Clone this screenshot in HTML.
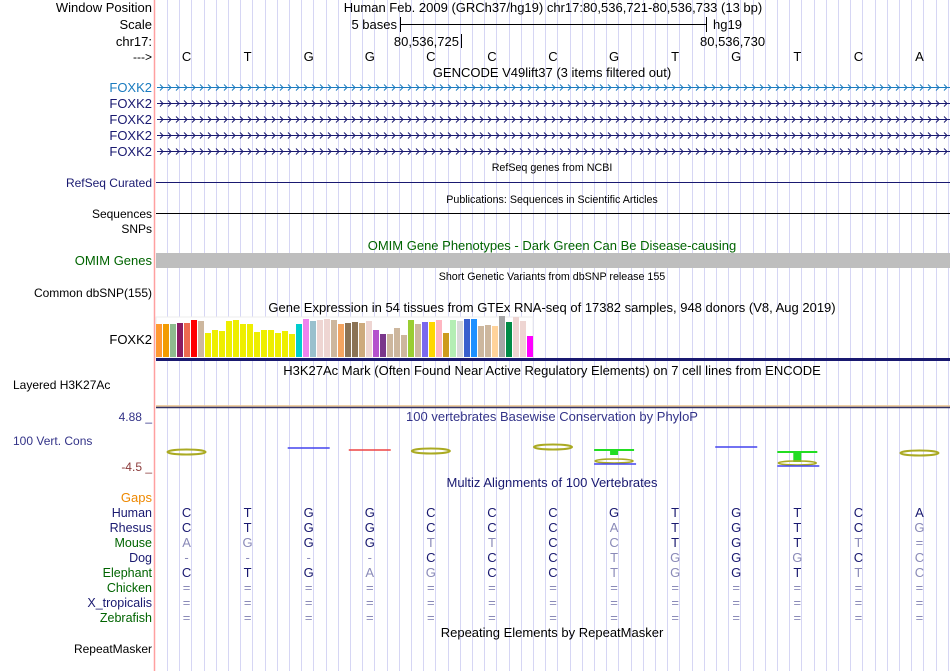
<!DOCTYPE html>
<html><head><meta charset="utf-8"><style>
html,body{margin:0;padding:0;background:#fff}
svg{display:block;font-family:"Liberation Sans",sans-serif}
</style></head><body>
<svg id="c" width="950" height="671" viewBox="0 0 950 671">
<g id="grid"></g>
<line x1="154.5" y1="0" x2="154.5" y2="671" stroke="#ffa0a0" stroke-width="1.5"/>
<g id="labels" font-size="12" text-anchor="end"></g>
<g id="tracks"></g>
</svg>
<script>
const bases=['C','T','G','G','C','C','C','G','T','G','T','C','A'];
const species=['Human','Rhesus','Mouse','Dog','Elephant','Chicken','X_tropicalis','Zebrafish'];
const alignRhesus=['C','T','G','G','C','C','C','A','T','G','T','C','G'];
const alignMouse=['A','G','G','G','T','T','C','C','T','G','T','T','='];
const alignDog=['-','-','-','-','C','C','C','T','G','G','G','C','C'];
const alignElephant=['C','T','G','A','G','C','C','T','G','G','T','T','C'];
const gtexValues=[33,33,33,34,34,37,36,24,27,26,36,37,33,33,25,27,27,24,26,23,33,38,36,37,38,37,33,34,35,34,36,27,23,23,29,22,37,33,35,35,37,24,37,36,38,38,31,32,31,41,35,40,36,21];
const gtexColors=['#ff9933','#f29b00','#8fbc8f','#8b1c62','#ee6a50','#ff0000','#cdb79e','#eeee00','#eeee00','#eeee00','#eeee00','#eeee00','#eeee00','#eeee00','#eeee00','#eeee00','#eeee00','#eeee00','#eeee00','#eeee00','#00cdcd','#ee82ee','#9ac0cd','#eed5d2','#eed5d2','#cdb79e','#f4a460','#8b7355','#8b7355','#cdaa7d','#eed5d2','#b452cd','#7a378b','#cdb79e','#cdb79e','#cdb79e','#9acd32','#cdb79e','#7b68ee','#ffd700','#ffb6c1','#cd9b1d','#b4eeb4','#d9d9d9','#3a5fcd','#1e90ff','#cdb79e','#cdb79e','#ffd39b','#a6a6a6','#008b45','#eed5d2','#eed5d2','#ff00ff'];
const NS='http://www.w3.org/2000/svg';
const X0=156,X1=950,BW=(X1-X0)/13;
function bx(i){return X0+BW*(i+0.5);}
function gx(v){return 156+7*v;}
function gy(v){return 357-v;}
function mk(tag,attrs,parent,txt){const e=document.createElementNS(NS,tag);for(const k in attrs)e.setAttribute(k,attrs[k]);if(txt!==undefined)e.textContent=txt;parent.appendChild(e);return e;}
const grid=document.getElementById('grid'),labels=document.getElementById('labels'),tr=document.getElementById('tracks');
for(let x=167;x<950;x+=12.2){const l=mk('line',{x1:Math.round(x)+.5,y1:0,x2:Math.round(x)+.5,y2:671,stroke:'#d6d6f4','stroke-width':1},grid);

}
const L=[['Window Position',12,'#000'],['Scale',29,'#000'],['chr17:',46,'#000'],['--->',61,'#000'],['FOXK2',92,'#1a7bbf'],['FOXK2',108,'#191970'],['FOXK2',124,'#191970'],['FOXK2',140,'#191970'],['FOXK2',156,'#191970'],['RefSeq Curated',187,'#191970'],['Sequences',218,'#000'],['SNPs',233,'#000'],['OMIM Genes',265,'#006400'],['Common dbSNP(155)',297,'#000'],['FOXK2',344,'#000'],['4.88 _',421,'#333388'],['-4.5 _',471,'#8b3a3a'],['Gaps',502,'#ee8800'],['RepeatMasker',653,'#000']];
L.forEach(a=>{const t=mk('text',{x:152,y:a[1],fill:a[2],'font-size':(a[0]=='Window Position'||a[0]=='Scale'||a[0]=='chr17:'||a[0].startsWith('FOXK2')||a[0]=='OMIM Genes'||a[0]=='Gaps')?13:12},labels,a[0]);

});
const lh=mk('text',{x:13,y:389,'text-anchor':'start'},labels,'Layered H3K27Ac');


const vc=mk('text',{x:13,y:445,'text-anchor':'start',fill:'#333388'},labels,'100 Vert. Cons');


const spColors=['#191970','#191970','#006400','#191970','#006400','#006400','#191970','#006400'];
species.forEach((s,i)=>{const t=mk('text',{x:152,y:517+15*i,fill:spColors[i],'font-size':12.5},labels,s);

});
const T=[['Human Feb. 2009 (GRCh37/hg19)    chr17:80,536,721-80,536,733 (13 bp)',553,12,13,'#000'],['GENCODE V49lift37 (3 items filtered out)',552,77,13,'#000'],['RefSeq genes from NCBI',552,171,10.7,'#000'],['Publications: Sequences in Scientific Articles',552,203,10.7,'#000'],['OMIM Gene Phenotypes - Dark Green Can Be Disease-causing',552,250,13,'#006400'],['Short Genetic Variants from dbSNP release 155',552,280,10.7,'#000'],['Gene Expression in 54 tissues from GTEx RNA-seq of 17382 samples, 948 donors (V8, Aug 2019)',552,312,13,'#000'],['H3K27Ac Mark (Often Found Near Active Regulatory Elements) on 7 cell lines from ENCODE',552,375,13,'#000'],['100 vertebrates Basewise Conservation by PhyloP',552,421,13,'#333388'],['Multiz Alignments of 100 Vertebrates',552,487,13,'#191970'],['Repeating Elements by RepeatMasker',552,637,13,'#000']];
T.forEach(a=>{const t=mk('text',{x:a[1],y:a[2],'font-size':a[3],fill:a[4],'text-anchor':'middle','xml:space':'preserve'},tr,a[0]);

});
mk('line',{x1:400.5,y1:24.5,x2:706.5,y2:24.5,stroke:'#000'},tr);
mk('line',{x1:400.5,y1:17,x2:400.5,y2:32,stroke:'#000'},tr);
mk('line',{x1:706.5,y1:17,x2:706.5,y2:32,stroke:'#000'},tr);
mk('text',{x:397,y:29,'font-size':13,'text-anchor':'end'},tr,'5 bases');
mk('text',{x:713,y:29,'font-size':13},tr,'hg19');
mk('line',{x1:461.5,y1:34,x2:461.5,y2:48,stroke:'#000'},tr);
mk('text',{x:459,y:46,'font-size':13,'text-anchor':'end'},tr,'80,536,725');
mk('text',{x:700,y:46,'font-size':13},tr,'80,536,730');
bases.forEach((b,i)=>{const t=mk('text',{x:bx(i),y:61,'font-size':13,'text-anchor':'middle'},tr,b);

});
[[87,'#1a7bbf'],[103,'#191970'],[119,'#191970'],[135,'#191970'],[151,'#191970']].forEach(g=>{
 const gg=mk('g',{},tr);
 
 
 mk('line',{x1:157,y1:g[0]+.5,x2:950,y2:g[0]+.5,stroke:g[1]},gg);
 let d='';for(let x=160;x<948;x+=8){d+=`M${x} ${g[0]-2.5}L${x+3} ${g[0]+.5}L${x} ${g[0]+3.5}`;}
 mk('path',{d:d,stroke:g[1],fill:'none','stroke-width':1},gg);
});
mk('line',{x1:156,y1:182.5,x2:950,y2:182.5,stroke:'#191970'},tr);
mk('line',{x1:156,y1:213.5,x2:950,y2:213.5,stroke:'#000'},tr);
const om=mk('rect',{x:156,y:253,width:794,height:15,fill:'#bebebe'},tr);


mk('rect',{x:156,y:317,width:377,height:41,fill:'#fff',stroke:'#eee'},tr);
gtexValues.forEach((v,i)=>{const r=mk('rect',{x:gx(i),y:gy(v),width:6,height:v,fill:gtexColors[i]},tr);

});
mk('rect',{x:156,y:358,width:794,height:3,fill:'#191970'},tr);
mk('line',{x1:156,y1:406,x2:950,y2:406,stroke:'#e8c08a','stroke-width':1.5},tr);
mk('line',{x1:156,y1:407.5,x2:950,y2:407.5,stroke:'#333366','stroke-width':1.5},tr);
const cons=[[0,'#aaaa22',452],[2,'#4444ee',448],[3,'#ee4444',450],[4,'#aaaa22',451],[6,'#aaaa22',447],[7,'#22dd22',453],[9,'#4444ee',447],[10,'#22dd22',455],[12,'#aaaa22',453]];
cons.forEach(c=>{const g=mk('g',{},tr);
 
 
 const x=bx(c[0]);
 if(c[1]=='#aaaa22'){mk('ellipse',{cx:x,cy:c[2],rx:19,ry:2.5,fill:'none',stroke:'#aaaa22','stroke-width':2},g);}
 else if(c[1]=='#22dd22'){mk('rect',{x:x-20,y:c[2]-4,width:40,height:2,fill:'#22dd22'},g);mk('rect',{x:x-4,y:c[2]-3,width:8,height:c[0]==10?10:5,fill:'#22dd22'},g);mk('ellipse',{cx:x,cy:c[2]+8,rx:19,ry:2,fill:'none',stroke:'#aaaa22','stroke-width':1.5},g);mk('line',{x1:x-20,y1:c[2]+11,x2:x+22,y2:c[2]+11,stroke:'#4444ee','stroke-width':1.5},g);}
 else mk('line',{x1:x-21,y1:c[2],x2:x+21,y2:c[2],stroke:c[1],'stroke-width':1.5},g);
});
const rows=[bases,alignRhesus,alignMouse,alignDog,alignElephant,bases.map(()=>'='),bases.map(()=>'='),bases.map(()=>'=')];
rows.forEach((row,r)=>{row.forEach((b,i)=>{
 const match=(b===bases[i]);
 const t=mk('text',{x:bx(i),y:517+15*r,'font-size':13,'text-anchor':'middle',fill:match?'#191970':'#8a8ab8'},tr,b);
 
 
});});
</script>
</body></html>
